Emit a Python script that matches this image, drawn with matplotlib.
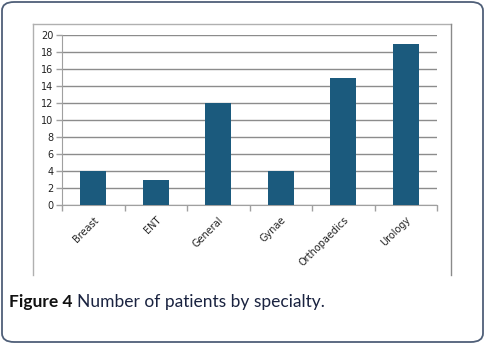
import matplotlib
matplotlib.use("Agg")
import matplotlib.pyplot as plt
from matplotlib.patches import FancyBboxPatch
from matplotlib.lines import Line2D

categories = ["Breast", "ENT", "General", "Gynae", "Orthopaedics", "Urology"]
values = [4, 3, 12, 4, 15, 19]
yticks = list(range(0, 21, 2))

W, H = 487, 345
fig = plt.figure(figsize=(W / 100, H / 100), dpi=100)

def fx(px):
    return px / W

def fy(py):
    return 1 - py / H

# outer rounded border
outer = FancyBboxPatch((fx(2), fy(342)), fx(481), 340 / H,
                       boxstyle="round,pad=0,rounding_size=0.025",
                       transform=fig.transFigure, fill=False,
                       edgecolor="#4f5f78", linewidth=1.3)
fig.patches.append(outer)

# inner chart box (left, top, right)
box_c = "#b0b0b0"
fig.lines.append(Line2D([fx(32.5), fx(32.5)], [fy(275), fy(23.5)], transform=fig.transFigure, color=box_c, lw=1))
fig.lines.append(Line2D([fx(32.5), fx(450.5)], [fy(23.5), fy(23.5)], transform=fig.transFigure, color=box_c, lw=1))
fig.lines.append(Line2D([fx(450.5), fx(450.5)], [fy(23.5), fy(275)], transform=fig.transFigure, color="#8a8a8a", lw=1))

ax = fig.add_axes([fx(62), fy(205), fx(437) - fx(62), (205 - 35) / H])
x = list(range(len(categories)))
ax.bar(x, values, width=0.42, color="#1b5a7d", zorder=3)
ax.set_xlim(-0.5, len(categories) - 0.5)
ax.set_ylim(0, 20)
ax.set_yticks(yticks)
ax.set_yticklabels([str(v) for v in yticks], fontsize=7, color="#222222")
ax.yaxis.grid(True, color="#8c8c8c", linewidth=1, zorder=0)
ax.set_xticks([i - 0.5 for i in range(len(categories) + 1)], minor=False)
ax.set_xticklabels([])
ax.set_xticks(x, minor=True)
ax.set_xticklabels(categories, minor=True, rotation=45, ha="right", rotation_mode="anchor",
                   fontsize=7, color="#222222")
ax.tick_params(axis="x", which="minor", length=0, pad=7)
ax.tick_params(axis="x", which="major", length=4, color="#a0a0a0", width=1)
ax.tick_params(axis="y", length=4, color="#a0a0a0", width=1, pad=2)
for s in ["top", "right"]:
    ax.spines[s].set_visible(False)
ax.spines["left"].set_color("#a0a0a0")
ax.spines["bottom"].set_color("#a0a0a0")
ax.set_axisbelow(True)

# caption
renderer = fig.canvas.get_renderer()
t1 = fig.text(fx(9), fy(302), "Figure 4", fontsize=12.5, fontweight="bold",
              family="Lato", color="#111111", va="center", ha="left")
bb = t1.get_window_extent(renderer)
fig.text(bb.x1 / W + fx(4), fy(302), "Number of patients by specialty.", fontsize=12.5,
         family="Lato", color="#1a2340", va="center", ha="left")

fig.savefig("out.png", dpi=100)
